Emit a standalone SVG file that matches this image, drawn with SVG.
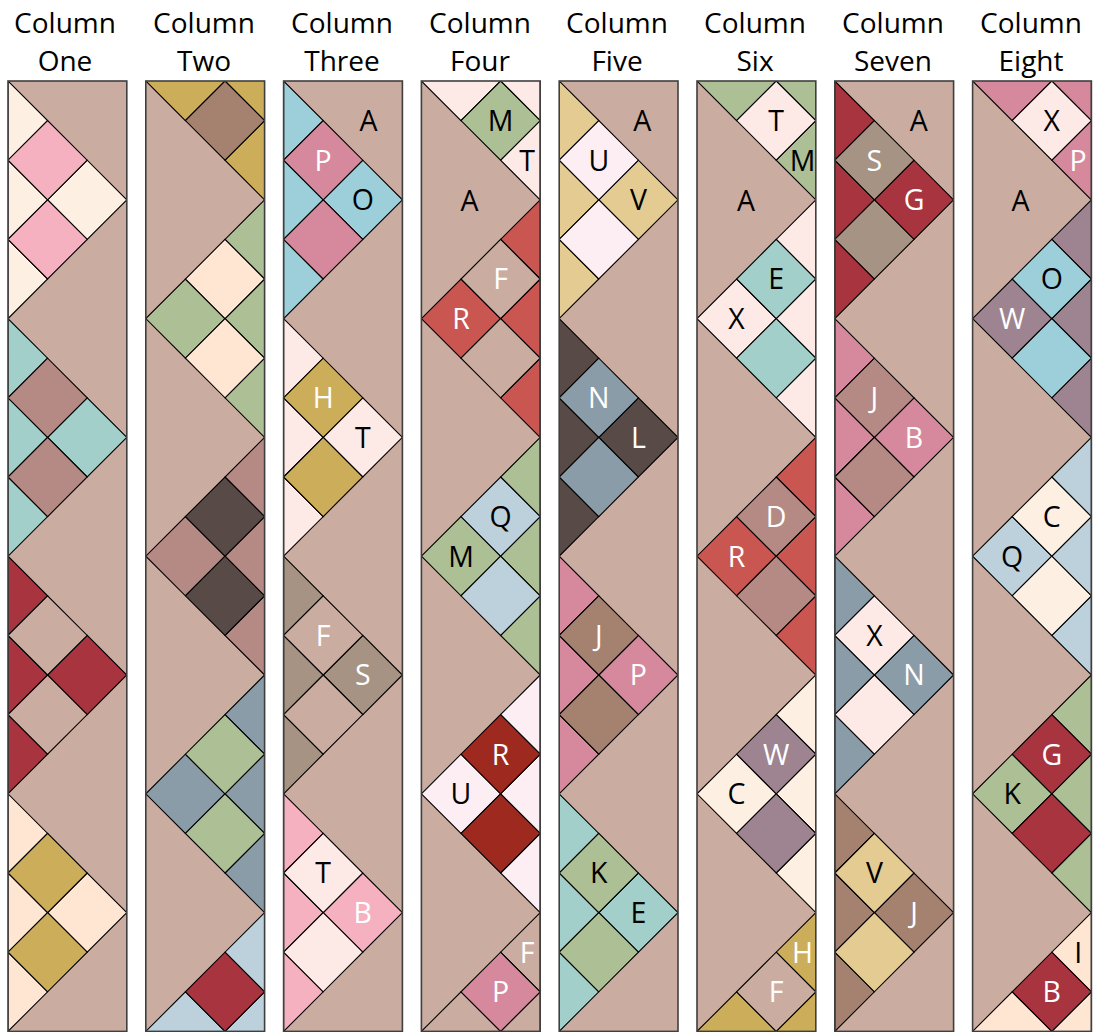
<svg xmlns="http://www.w3.org/2000/svg" width="1093" height="1032" viewBox="0 0 1093 1032">
<style>
.pc{stroke:#000;stroke-width:1.1;stroke-linejoin:miter}
.frame{fill:none;stroke:#3f3f3f;stroke-width:1.6}
.hd{font-family:"Open Sans","Noto Sans","Liberation Sans",sans-serif;font-size:28px;text-anchor:middle;fill:#000}
.lb{font-family:"Open Sans","Noto Sans","Liberation Sans",sans-serif;font-size:28.5px;text-anchor:middle}
.k{fill:#000}.w{fill:#fff}
.tan{fill:#cbaca1}.cream{fill:#fdf0e3}.lpink{fill:#f5b1c0}.teal{fill:#a2cfc9}.rose{fill:#b58a84}
.red{fill:#a8343f}.peach{fill:#fee6d3}.gold{fill:#ccad5a}.brown{fill:#a58170}.green{fill:#adbf95}
.dark{fill:#584a46}.slate{fill:#8a9ca8}.lblue{fill:#bdd1dc}.tblue{fill:#9dcfda}.pink{fill:#d6899c}
.ppink{fill:#fdeae6}.red2{fill:#c95650}.taupe{fill:#a69383}.vpink{fill:#fdeef4}.dred{fill:#9e2a1f}
.lgold{fill:#e3cb92}.mauve{fill:#9e8490}
</style>
<defs>
<clipPath id="colClip"><rect x="0" y="0" width="118.8" height="950.4"/></clipPath>
<path id="oddOuter" d="M0,0L39.6,39.6L0,79.2ZM0,79.2L39.6,118.8L0,158.4ZM0,158.4L39.6,198L0,237.6ZM39.6,118.8L79.2,79.2L118.8,118.8L79.2,158.4Z"/>
<path id="oddInner" d="M0,79.2L39.6,39.6L79.2,79.2L39.6,118.8ZM0,158.4L39.6,118.8L79.2,158.4L39.6,198Z"/>
<path id="evenOuter" d="M118.8,0L79.2,39.6L118.8,79.2ZM118.8,79.2L79.2,118.8L118.8,158.4ZM118.8,158.4L79.2,198L118.8,237.6ZM79.2,118.8L39.6,79.2L0,118.8L39.6,158.4Z"/>
<path id="evenInner" d="M118.8,79.2L79.2,39.6L39.6,79.2L79.2,118.8ZM118.8,158.4L79.2,118.8L39.6,158.4L79.2,198Z"/>
</defs>

<g id="headers">
<text class="hd" x="65" y="33">Column</text><text class="hd" x="65" y="71">One</text>
<text class="hd" x="204" y="33">Column</text><text class="hd" x="204" y="71">Two</text>
<text class="hd" x="342" y="33">Column</text><text class="hd" x="342" y="71">Three</text>
<text class="hd" x="480" y="33">Column</text><text class="hd" x="480" y="71">Four</text>
<text class="hd" x="617" y="33">Column</text><text class="hd" x="617" y="71">Five</text>
<text class="hd" x="755" y="33">Column</text><text class="hd" x="755" y="71">Six</text>
<text class="hd" x="893" y="33">Column</text><text class="hd" x="893" y="71">Seven</text>
<text class="hd" x="1031" y="33">Column</text><text class="hd" x="1031" y="71">Eight</text>
</g>

<g id="connectors"></g>

<!-- Column One -->
<g id="column-one" transform="translate(8,81)">
<g clip-path="url(#colClip)">
<rect class="tan" width="118.8" height="950.4"/>
<g id="c1r1"><use href="#oddOuter" class="pc cream"/><use href="#oddInner" class="pc lpink"/></g>
<g id="c1r2" transform="translate(0,237.6)"><use href="#oddOuter" class="pc teal"/><use href="#oddInner" class="pc rose"/></g>
<g id="c1r3" transform="translate(0,475.2)"><use href="#oddOuter" class="pc red"/><use href="#oddInner" class="pc tan"/></g>
<g id="c1r4" transform="translate(0,712.8)"><use href="#oddOuter" class="pc peach"/><use href="#oddInner" class="pc gold"/></g>
</g>
<rect class="frame" width="118.8" height="950.4"/>
</g>

<!-- Column Two -->
<g id="column-two" transform="translate(145.8,81)">
<g clip-path="url(#colClip)">
<rect class="tan" width="118.8" height="950.4"/>
<g id="c2r0" transform="translate(0,-118.8)"><use href="#evenOuter" class="pc gold"/><use href="#evenInner" class="pc brown"/></g>
<g id="c2r1" transform="translate(0,118.8)"><use href="#evenOuter" class="pc green"/><use href="#evenInner" class="pc peach"/></g>
<g id="c2r2" transform="translate(0,356.4)"><use href="#evenOuter" class="pc rose"/><use href="#evenInner" class="pc dark"/></g>
<g id="c2r3" transform="translate(0,594)"><use href="#evenOuter" class="pc slate"/><use href="#evenInner" class="pc green"/></g>
<g id="c2r4" transform="translate(0,831.6)"><use href="#evenOuter" class="pc lblue"/><use href="#evenInner" class="pc red"/></g>
</g>
<rect class="frame" width="118.8" height="950.4"/>
</g>

<!-- Column Three -->
<g id="column-three" transform="translate(283.6,81)">
<g clip-path="url(#colClip)">
<rect class="tan" width="118.8" height="950.4"/>
<g id="c3r1"><use href="#oddOuter" class="pc tblue"/><use href="#oddInner" class="pc pink"/></g>
<g id="c3r2" transform="translate(0,237.6)"><use href="#oddOuter" class="pc ppink"/><use href="#oddInner" class="pc gold"/></g>
<g id="c3r3" transform="translate(0,475.2)"><use href="#oddOuter" class="pc taupe"/><use href="#oddInner" class="pc tan"/></g>
<g id="c3r4" transform="translate(0,712.8)"><use href="#oddOuter" class="pc lpink"/><use href="#oddInner" class="pc ppink"/></g>
</g>
<rect class="frame" width="118.8" height="950.4"/>
<text class="lb k" x="85" y="50">A</text>
<text class="lb w" x="39.6" y="89.6">P</text><text class="lb k" x="79.2" y="129.2">O</text>
<text class="lb w" x="39.6" y="327.2">H</text><text class="lb k" x="79.2" y="366.8">T</text>
<text class="lb w" x="39.6" y="564.8">F</text><text class="lb w" x="79.2" y="604.4">S</text>
<text class="lb k" x="39.6" y="802.4">T</text><text class="lb w" x="79.2" y="842">B</text>
</g>

<!-- Column Four -->
<g id="column-four" transform="translate(421.4,81)">
<g clip-path="url(#colClip)">
<rect class="tan" width="118.8" height="950.4"/>
<g id="c4r0" transform="translate(0,-118.8)"><use href="#evenOuter" class="pc ppink"/><use href="#evenInner" class="pc green"/></g>
<g id="c4r1" transform="translate(0,118.8)"><use href="#evenOuter" class="pc red2"/><use href="#evenInner" class="pc tan"/></g>
<g id="c4r2" transform="translate(0,356.4)"><use href="#evenOuter" class="pc green"/><use href="#evenInner" class="pc lblue"/></g>
<g id="c4r3" transform="translate(0,594)"><use href="#evenOuter" class="pc vpink"/><use href="#evenInner" class="pc dred"/></g>
<g id="c4r4" transform="translate(0,831.6)"><use href="#evenOuter" class="pc tan"/><use href="#evenInner" class="pc pink"/></g>
</g>
<rect class="frame" width="118.8" height="950.4"/>
<text class="lb k" x="79.2" y="50">M</text><text class="lb k" x="105.6" y="89.6">T</text><text class="lb k" x="48" y="130">A</text>
<text class="lb w" x="79.2" y="208.4">F</text><text class="lb w" x="39.6" y="248">R</text>
<text class="lb k" x="79.2" y="446">Q</text><text class="lb k" x="39.6" y="485.6">M</text>
<text class="lb w" x="79.2" y="683.6">R</text><text class="lb k" x="39.6" y="723.2">U</text>
<text class="lb w" x="105.6" y="881.6">F</text><text class="lb w" x="79.2" y="921.2">P</text>
</g>

<!-- Column Five -->
<g id="column-five" transform="translate(559.2,81)">
<g clip-path="url(#colClip)">
<rect class="tan" width="118.8" height="950.4"/>
<g id="c5r1"><use href="#oddOuter" class="pc lgold"/><use href="#oddInner" class="pc vpink"/></g>
<g id="c5r2" transform="translate(0,237.6)"><use href="#oddOuter" class="pc dark"/><use href="#oddInner" class="pc slate"/></g>
<g id="c5r3" transform="translate(0,475.2)"><use href="#oddOuter" class="pc pink"/><use href="#oddInner" class="pc brown"/></g>
<g id="c5r4" transform="translate(0,712.8)"><use href="#oddOuter" class="pc teal"/><use href="#oddInner" class="pc green"/></g>
</g>
<rect class="frame" width="118.8" height="950.4"/>
<text class="lb k" x="83" y="50">A</text>
<text class="lb k" x="39.6" y="89.6">U</text><text class="lb k" x="79.2" y="129.2">V</text>
<text class="lb w" x="39.6" y="327.2">N</text><text class="lb w" x="79.2" y="366.8">L</text>
<text class="lb w" x="39.6" y="564.8">J</text><text class="lb w" x="79.2" y="604.4">P</text>
<text class="lb k" x="39.6" y="802.4">K</text><text class="lb k" x="79.2" y="842">E</text>
</g>

<!-- Column Six -->
<g id="column-six" transform="translate(697,81)">
<g clip-path="url(#colClip)">
<rect class="tan" width="118.8" height="950.4"/>
<g id="c6r0" transform="translate(0,-118.8)"><use href="#evenOuter" class="pc green"/><use href="#evenInner" class="pc ppink"/></g>
<g id="c6r1" transform="translate(0,118.8)"><use href="#evenOuter" class="pc ppink"/><use href="#evenInner" class="pc teal"/></g>
<g id="c6r2" transform="translate(0,356.4)"><use href="#evenOuter" class="pc red2"/><use href="#evenInner" class="pc rose"/></g>
<g id="c6r3" transform="translate(0,594)"><use href="#evenOuter" class="pc cream"/><use href="#evenInner" class="pc mauve"/></g>
<g id="c6r4" transform="translate(0,831.6)"><use href="#evenOuter" class="pc gold"/><use href="#evenInner" class="pc tan"/></g>
</g>
<rect class="frame" width="118.8" height="950.4"/>
<text class="lb k" x="79.2" y="50">T</text><text class="lb k" x="105.6" y="89.6">M</text><text class="lb k" x="49" y="130">A</text>
<text class="lb k" x="79.2" y="208.4">E</text><text class="lb k" x="39.6" y="248">X</text>
<text class="lb w" x="79.2" y="446">D</text><text class="lb w" x="39.6" y="485.6">R</text>
<text class="lb w" x="79.2" y="683.6">W</text><text class="lb k" x="39.6" y="723.2">C</text>
<text class="lb w" x="105.6" y="881.6">H</text><text class="lb w" x="79.2" y="921.2">F</text>
</g>

<!-- Column Seven -->
<g id="column-seven" transform="translate(834.8,81)">
<g clip-path="url(#colClip)">
<rect class="tan" width="118.8" height="950.4"/>
<g id="c7r1"><use href="#oddOuter" class="pc red"/><use href="#oddInner" class="pc taupe"/></g>
<g id="c7r2" transform="translate(0,237.6)"><use href="#oddOuter" class="pc pink"/><use href="#oddInner" class="pc rose"/></g>
<g id="c7r3" transform="translate(0,475.2)"><use href="#oddOuter" class="pc slate"/><use href="#oddInner" class="pc ppink"/></g>
<g id="c7r4" transform="translate(0,712.8)"><use href="#oddOuter" class="pc brown"/><use href="#oddInner" class="pc lgold"/></g>
</g>
<rect class="frame" width="118.8" height="950.4"/>
<text class="lb k" x="84" y="50">A</text>
<text class="lb w" x="39.6" y="89.6">S</text><text class="lb w" x="79.2" y="129.2">G</text>
<text class="lb w" x="39.6" y="327.2">J</text><text class="lb w" x="79.2" y="366.8">B</text>
<text class="lb k" x="39.6" y="564.8">X</text><text class="lb w" x="79.2" y="604.4">N</text>
<text class="lb k" x="39.6" y="802.4">V</text><text class="lb w" x="79.2" y="842">J</text>
</g>

<!-- Column Eight -->
<g id="column-eight" transform="translate(972.6,81)">
<g clip-path="url(#colClip)">
<rect class="tan" width="118.8" height="950.4"/>
<g id="c8r0" transform="translate(0,-118.8)"><use href="#evenOuter" class="pc pink"/><use href="#evenInner" class="pc ppink"/></g>
<g id="c8r1" transform="translate(0,118.8)"><use href="#evenOuter" class="pc mauve"/><use href="#evenInner" class="pc tblue"/></g>
<g id="c8r2" transform="translate(0,356.4)"><use href="#evenOuter" class="pc lblue"/><use href="#evenInner" class="pc cream"/></g>
<g id="c8r3" transform="translate(0,594)"><use href="#evenOuter" class="pc green"/><use href="#evenInner" class="pc red"/></g>
<g id="c8r4" transform="translate(0,831.6)"><use href="#evenOuter" class="pc peach"/><use href="#evenInner" class="pc red"/></g>
</g>
<rect class="frame" width="118.8" height="950.4"/>
<text class="lb k" x="79.2" y="50">X</text><text class="lb w" x="105.6" y="89.6">P</text><text class="lb k" x="48" y="130">A</text>
<text class="lb k" x="79.2" y="208.4">O</text><text class="lb w" x="39.6" y="248">W</text>
<text class="lb k" x="79.2" y="446">C</text><text class="lb k" x="39.6" y="485.6">Q</text>
<text class="lb w" x="79.2" y="683.6">G</text><text class="lb k" x="39.6" y="723.2">K</text>
<text class="lb k" x="105.6" y="881.6">I</text><text class="lb w" x="79.2" y="921.2">B</text>
</g>
</svg>
